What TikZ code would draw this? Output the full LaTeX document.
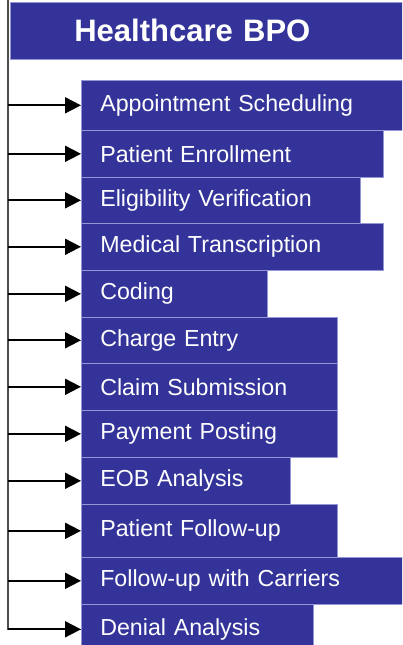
\documentclass[tikz,border=0pt]{standalone}
\usepackage{fontspec}
\setmainfont{Liberation Sans}
\usetikzlibrary{arrows.meta}
\definecolor{bpoblue}{RGB}{51,51,153}
\definecolor{bpoedge}{RGB}{150,150,215}

\begin{document}
\begin{tikzpicture}[x=1pt, y=-1pt,
  head/.style={
    fill=bpoblue, draw=bpoedge, line width=0.6pt,
    anchor=north west, text=white, align=left,
    minimum width=400pt, minimum height=57pt,
    inner xsep=64pt, text width=272pt,
    font=\fontsize{31}{36}\selectfont\bfseries,
  },
  item/.style 2 args={
    fill=bpoblue, draw=bpoedge, line width=0.6pt,
    anchor=north west, text=white, align=left,
    minimum width=#1pt, minimum height=#2pt,
    inner xsep=19pt, text width={#1pt-38pt},
    font=\fontsize{23.2}{27}\selectfont,
  },
  branch/.style={draw=black, line width=1.8pt,
    -{Triangle[length=16pt,width=16pt]}},
  ]
  \useasboundingbox (0,0) rectangle (402,645);
  \clip (0,0) rectangle (402,645);
  \node[head] (hdr) at (10,2) {Healthcare BPO};
  \node[item={330}{50}] (appt) at (81,80) {Appointment Scheduling};
  \node[item={302}{47}] (enrol) at (81,130) {Patient Enrollment};
  \node[item={279}{46}] (elig) at (81,177) {Eligibility Verification};
  \node[item={302}{47}] (trans) at (81,223) {Medical Transcription};
  \node[item={186}{47}] (coding) at (81,270) {Coding};
  \node[item={256}{46}] (charge) at (81,317) {Charge Entry};
  \node[item={256}{47}] (claim) at (81,363) {Claim Submission};
  \node[item={256}{47}] (posting) at (81,410) {Payment Posting};
  \node[item={209}{47}] (eob) at (81,457) {EOB Analysis};
  \node[item={256}{53}] (followup) at (81,504) {Patient Follow-up};
  \node[item={330}{47}] (carriers) at (81,557) {Follow-up with Carriers};
  \node[item={232}{50}] (denial) at (81,604) {Denial Analysis};
  \coordinate (spine) at (8,0);
  \draw[draw=black!70, line width=1.4pt] (spine) |- (denial.west);
  \foreach \n in {appt,enrol,elig,trans,coding,charge,claim,posting,eob,followup,carriers,denial}
    \draw[branch] (spine |- \n.west) -- (\n.west);
\end{tikzpicture}
\end{document}
